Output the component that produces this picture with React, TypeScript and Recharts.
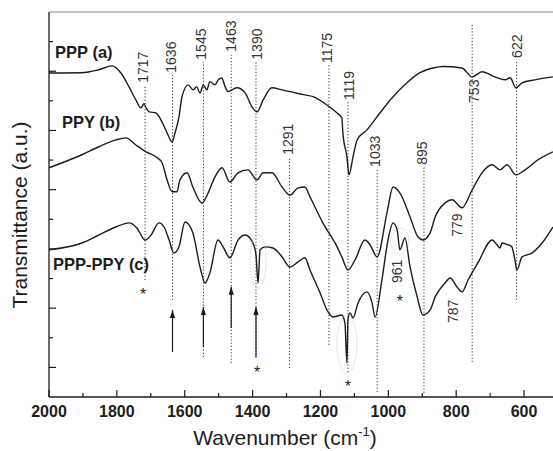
import React from 'react';
import { LineChart, Line, XAxis, YAxis, ReferenceLine, ReferenceDot } from 'recharts';

// PPP (a)
const pppWave = [2000, 1903, 1853, 1814, 1788, 1764, 1744, 1729, 1720, 1714, 1705, 1685, 1667, 1652, 1637, 1629, 1617, 1608, 1590, 1575, 1565, 1555, 1545, 1535, 1526, 1511, 1501, 1491, 1481, 1472, 1461, 1446, 1422, 1402, 1387, 1369, 1343, 1313, 1275, 1246, 1222, 1181, 1151, 1137, 1134, 1122, 1116, 1104, 1092, 1063, 1025, 986, 945, 907, 868, 840, 783, 753, 724, 686, 656, 641, 624, 606, 568, 515];
const pppValue = [10.94, 10.95, 11.05, 11.18, 10.94, 10.47, 10.03, 9.76, 9.9, 9.76, 9.63, 9.59, 9.29, 8.92, 8.61, 8.9, 9.46, 10.14, 10.54, 10.37, 10.48, 10.26, 10.54, 10.37, 10.65, 10.54, 10.71, 10.77, 10.48, 10.31, 10.37, 10.44, 10.27, 9.8, 9.63, 10.03, 10.44, 10.37, 10.27, 10.2, 10.14, 9.86, 9.59, 9.43, 8.92, 8.11, 7.5, 8.11, 8.68, 9.02, 9.59, 10.14, 10.61, 10.95, 11.11, 11.16, 11.11, 10.81, 10.98, 10.81, 10.71, 10.78, 10.44, 10.61, 10.71, 10.81];

// PPY (b)
const ppyWave = [2000, 1903, 1853, 1803, 1773, 1744, 1714, 1685, 1667, 1652, 1637, 1623, 1614, 1593, 1576, 1549, 1531, 1511, 1490, 1467, 1443, 1414, 1387, 1369, 1343, 1313, 1290, 1266, 1246, 1231, 1193, 1151, 1137, 1119, 1098, 1069, 1054, 1033, 1004, 986, 966, 936, 913, 898, 877, 862, 833, 812, 783, 753, 724, 694, 671, 650, 624, 597, 559, 515];
const ppyValue = [7.74, 8.18, 8.45, 8.68, 8.75, 8.51, 8.28, 8.11, 7.91, 7.33, 6.93, 6.93, 7.33, 7.57, 7.09, 6.55, 6.89, 7.43, 7.74, 7.26, 7.57, 7.67, 7.33, 7.57, 7.57, 7.09, 6.82, 7.06, 7.09, 6.76, 5.88, 5.07, 4.73, 4.29, 4.63, 5.3, 5.14, 4.73, 6.22, 7.09, 6.89, 6.08, 5.41, 5.3, 5.54, 6.08, 6.55, 6.66, 6.39, 6.99, 7.57, 7.84, 7.67, 7.84, 7.5, 7.67, 8.01, 8.28];

// PPP-PPY (c)
const mixWave = [2000, 1903, 1853, 1803, 1764, 1741, 1717, 1699, 1676, 1661, 1646, 1632, 1617, 1599, 1576, 1555, 1540, 1526, 1502, 1487, 1467, 1443, 1422, 1399, 1390, 1384, 1378, 1363, 1340, 1313, 1290, 1266, 1246, 1231, 1201, 1181, 1163, 1137, 1128, 1122, 1119, 1113, 1104, 1089, 1063, 1048, 1039, 1019, 1001, 986, 974, 966, 951, 936, 915, 898, 877, 862, 833, 818, 798, 783, 765, 736, 694, 680, 671, 665, 647, 636, 627, 621, 606, 577, 547, 515];
const mixValue = [4.97, 5.2, 5.47, 5.74, 5.88, 5.71, 5.3, 5.47, 5.88, 5.74, 5.3, 4.86, 5.07, 5.91, 5.54, 4.39, 3.85, 4.19, 5.3, 5.07, 4.7, 5.3, 5.47, 5.2, 4.8, 3.85, 4.97, 5.07, 5.03, 4.73, 4.39, 4.56, 4.7, 4.29, 3.51, 2.94, 2.7, 2.77, 2.5, 1.15, 2.6, 2.84, 2.67, 3.18, 3.55, 3.18, 2.7, 3.95, 5.3, 5.88, 5.64, 4.97, 5.37, 4.39, 3.38, 2.77, 2.94, 3.38, 3.85, 4.02, 3.72, 3.55, 3.95, 4.53, 5.3, 5.14, 5.03, 5.2, 5.14, 5.07, 4.63, 4.29, 4.73, 4.86, 5.2, 5.74];

const xTicks = [2000, 1900, 1800, 1700, 1600, 1500, 1400, 1300, 1200, 1100, 1000, 900, 800, 700, 600, 500];
const yTicks = [1, 2, 3, 4, 5, 6, 7, 8, 9, 10, 11, 12];

// dotted marker lines: wavenumber, bottom, top
const peakLines = [
  { wave: 1717, from: 3.95, to: 10.54 },
  { wave: 1636, from: 3.28, to: 10.88 },
  { wave: 1545, from: 1.35, to: 11.32 },
  { wave: 1463, from: 1.15, to: 11.55 },
  { wave: 1390, from: 1.32, to: 11.32 },
  { wave: 1291, from: 0.98, to: 8.11 },
  { wave: 1175, from: 1.76, to: 11.22 },
  { wave: 1119, from: 0.84, to: 10.03 },
  { wave: 1033, from: 0.17, to: 7.74 },
  { wave: 895, from: 0.14, to: 7.8 },
  { wave: 753, from: 1.18, to: 12.6 },
  { wave: 622, from: 3.28, to: 11.39 },
];

// rotated peak labels (start point of the text)
const peakLabels = [
  { text: '1717', wave: 1723, at: 10.61 },
  { text: '1636', wave: 1640, at: 10.95 },
  { text: '1545', wave: 1552, at: 11.39 },
  { text: '1463', wave: 1464, at: 11.66 },
  { text: '1390', wave: 1387, at: 11.39 },
  { text: '1291', wave: 1296, at: 8.18 },
  { text: '1175', wave: 1181, at: 11.28 },
  { text: '1119', wave: 1116, at: 10.03 },
  { text: '1033', wave: 1039, at: 7.77 },
  { text: '895', wave: 901, at: 7.84 },
  { text: '753', wave: 748, at: 9.93 },
  { text: '622', wave: 621, at: 11.45 },
  { text: '779', wave: 798, at: 5.41 },
  { text: '787', wave: 809, at: 2.5 },
  { text: '961', wave: 974, at: 3.85 },
];

const stars = [
  { wave: 1723, at: 3.58 },
  { wave: 1387, at: 0.95 },
  { wave: 1119, at: 0.47 },
  { wave: 966, at: 3.34 },
];

const arrows = [
  { wave: 1636, from: 1.52, to: 2.94 },
  { wave: 1545, from: 1.69, to: 3.04 },
  { wave: 1463, from: 2.33, to: 3.72 },
  { wave: 1390, from: 1.35, to: 3.04 },
];

const rings = [
  { wave: 1384, at: 4.59, rx: 8, ry: 27 },
  { wave: 1122, at: 1.79, rx: 10, ry: 29 },
  { wave: 966, at: 5.27, rx: 9, ry: 13 },
];

const seriesNames = [
  { text: 'PPP (a)', wave: 1982, at: 11.45 },
  { text: 'PPY (b)', wave: 1962, at: 9.09 },
  { text: 'PPP-PPY (c)', wave: 1988, at: 4.29 },
];

const toRows = (wave: number[], value: number[]) => wave.map((w, i) => ({ w, v: value[i] }));
const pppData = toRows(pppWave, pppValue);
const ppyData = toRows(ppyWave, ppyValue);
const mixData = toRows(mixWave, mixValue);

const FONT = '"Liberation Sans", Arial, sans-serif';
const INK = '#1c1c1c';

const XTick = (props: any) => {
  const { x, y, payload } = props;
  const major = payload.value % 200 === 0;
  return (
    <g>
      <line x1={x} x2={x} y1={y} y2={y - (major ? 7 : 4)} stroke={INK} strokeWidth={1.2} />
      {major && (
        <text x={x} y={y + 20} textAnchor="middle" fontSize={16} fontWeight="bold" fill={INK} fontFamily={FONT}>
          {payload.value}
        </text>
      )}
    </g>
  );
};

const YTick = (props: any) => {
  const { x, y, payload } = props;
  const major = payload.value % 2 === 1;
  return <line x1={x} x2={x + (major ? 7 : 4)} y1={y} y2={y} stroke={INK} strokeWidth={1.2} />;
};

export default function App() {
  return (
    <div
      style={{
        position: 'absolute',
        left: 0,
        top: 0,
        width: 553,
        height: 451,
        overflow: 'hidden',
        background: '#fff',
        fontFamily: FONT,
      }}
    >
      <LineChart width={575} height={451} margin={{ top: 12, right: 17, bottom: 24, left: 39 }}>
        <XAxis
          dataKey="w"
          type="number"
          domain={[500, 2000]}
          reversed
          allowDataOverflow
          ticks={xTicks}
          interval={0}
          height={30}
          tickSize={0}
          tickMargin={0}
          tickLine={false}
          tick={<XTick />}
          axisLine={{ stroke: INK, strokeWidth: 1.3 }}
        />
        <YAxis
          type="number"
          domain={[0, 13]}
          allowDataOverflow
          ticks={yTicks}
          interval={0}
          width={10}
          tickSize={0}
          tickMargin={0}
          tickLine={false}
          tick={<YTick />}
          axisLine={{ stroke: INK, strokeWidth: 1.3 }}
        />
        <ReferenceLine y={13} stroke="#8a8a8a" strokeWidth={1} />

        {peakLines.map((p) => (
          <ReferenceLine
            key={'l' + p.wave}
            segment={[
              { x: p.wave, y: p.from },
              { x: p.wave, y: p.to },
            ]}
            stroke="#333"
            strokeWidth={1}
            strokeDasharray="1.2 2"
          />
        ))}

        {arrows.map((a) => (
          <ReferenceLine
            key={'a' + a.wave}
            segment={[
              { x: a.wave, y: a.from },
              { x: a.wave, y: a.to },
            ]}
            stroke={INK}
            strokeWidth={1.2}
          />
        ))}
        {arrows.map((a) => (
          <ReferenceDot
            key={'h' + a.wave}
            x={a.wave}
            y={a.to}
            r={0}
            ifOverflow="visible"
            shape={(p: any) => (
              <polygon points={`${p.cx},${p.cy} ${p.cx - 2.6},${p.cy + 8} ${p.cx + 2.6},${p.cy + 8}`} fill={INK} />
            )}
          />
        ))}

        {rings.map((r) => (
          <ReferenceDot
            key={'r' + r.wave}
            x={r.wave}
            y={r.at}
            r={0}
            ifOverflow="visible"
            shape={(p: any) => (
              <ellipse cx={p.cx} cy={p.cy} rx={r.rx} ry={r.ry} fill="none" stroke="#aaa" strokeWidth={0.8} strokeDasharray="1 1.5" />
            )}
          />
        ))}

        <Line data={pppData} dataKey="v" type="monotone" stroke={INK} strokeWidth={1.4} dot={false} isAnimationActive={false} />
        <Line data={ppyData} dataKey="v" type="monotone" stroke={INK} strokeWidth={1.4} dot={false} isAnimationActive={false} />
        <Line data={mixData} dataKey="v" type="monotone" stroke={INK} strokeWidth={1.4} dot={false} isAnimationActive={false} />

        {peakLabels.map((l) => (
          <ReferenceDot
            key={'t' + l.text}
            x={l.wave}
            y={l.at}
            r={0}
            ifOverflow="visible"
            shape={(p: any) => (
              <text
                x={p.cx}
                y={p.cy}
                dy="0.36em"
                transform={`rotate(-90 ${p.cx} ${p.cy})`}
                fontSize={14}
                fill="#333"
                fontFamily={FONT}
              >
                {l.text}
              </text>
            )}
          />
        ))}

        {stars.map((s) => (
          <ReferenceDot
            key={'s' + s.wave}
            x={s.wave}
            y={s.at}
            r={0}
            ifOverflow="visible"
            shape={(p: any) => (
              <text x={p.cx} y={p.cy + 9} textAnchor="middle" fontSize={16} fill={INK} fontFamily={FONT}>
                *
              </text>
            )}
          />
        ))}

        {seriesNames.map((s) => (
          <ReferenceDot
            key={'n' + s.text}
            x={s.wave}
            y={s.at}
            r={0}
            ifOverflow="visible"
            shape={(p: any) => (
              <text x={p.cx} y={p.cy} fontSize={16.5} fontWeight="bold" fill={INK} fontFamily={FONT}>
                {s.text}
              </text>
            )}
          />
        ))}
      </LineChart>

      <div
        style={{
          position: 'absolute',
          left: 19,
          top: 215,
          transform: 'translate(-50%, -50%) rotate(-90deg)',
          whiteSpace: 'nowrap',
          fontSize: 21,
          color: INK,
          lineHeight: '21px',
        }}
      >
        Transmittance (a.u.)
      </div>
      <div
        style={{
          position: 'absolute',
          left: 285,
          top: 427,
          transform: 'translateX(-50%)',
          whiteSpace: 'nowrap',
          fontSize: 21,
          color: INK,
          lineHeight: '21px',
        }}
      >
        Wavenumber (cm
        <span style={{ fontSize: 13, position: 'relative', top: -9 }}>-1</span>)
      </div>
    </div>
  );
}
